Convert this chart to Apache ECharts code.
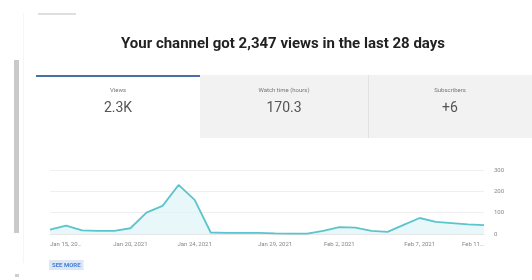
<!DOCTYPE html>
<html>
<head>
<meta charset="utf-8">
<script src="https://cdn.jsdelivr.net/npm/echarts@6/dist/echarts.min.js"></script>
<style>
html,body{margin:0;padding:0;background:#fff;}
#c{width:532px;height:280px;}
</style>
</head>
<body>
<div id="c"></div>
<script>
const titleText = "Your channel got 2,347 views in the last 28 days";
const tabLabels = ["Views", "Watch time (hours)", "Subscribers"];
const tabValues = ["2.3K", "170.3", "+6"];
const categories = ["Jan 15, 2021","Jan 16, 2021","Jan 17, 2021","Jan 18, 2021","Jan 19, 2021","Jan 20, 2021","Jan 21, 2021","Jan 22, 2021","Jan 23, 2021","Jan 24, 2021","Jan 25, 2021","Jan 26, 2021","Jan 27, 2021","Jan 28, 2021","Jan 29, 2021","Jan 30, 2021","Jan 31, 2021","Feb 1, 2021","Feb 2, 2021","Feb 3, 2021","Feb 4, 2021","Feb 5, 2021","Feb 6, 2021","Feb 7, 2021","Feb 8, 2021","Feb 9, 2021","Feb 10, 2021","Feb 11, 2021"];
const views = [20,39,17,15,15,27,100,132,230,160,7,5,5,5,3,2,2,15,32,30,15,10,43,75,57,51,45,42];
const xTickIndex = [0,5,9,14,18,23,27];
const xTickLabels = ["Jan 15, 20…","Jan 20, 2021","Jan 24, 2021","Jan 29, 2021","Feb 2, 2021","Feb 7, 2021","Feb 11…"];
const yTicks = [0,100,200,300];

const chart = echarts.init(document.getElementById('c'), null, {renderer:'canvas'});
const font = 'Roboto, "Noto Sans", sans-serif';
const tabX = [36, 200, 368, 532];
const graphics = [
  {type:'rect', shape:{x:38,y:13,width:38,height:2}, style:{fill:'#dedede'}, silent:true},
  {type:'rect', shape:{x:23,y:13,width:1,height:250}, style:{fill:'#f5f5f5'}, silent:true},
  {type:'rect', shape:{x:14,y:60,width:5,height:173}, style:{fill:'#c9c9c9'}, silent:true},
  {type:'rect', shape:{x:15,y:274,width:4,height:3}, style:{fill:'#cfcfcf'}, silent:true},
  {type:'rect', shape:{x:200,y:75,width:332,height:63}, style:{fill:'#f2f2f2'}, silent:true},
  {type:'rect', shape:{x:368,y:75,width:1,height:63}, style:{fill:'#e2e2e2'}, silent:true},
  {type:'rect', shape:{x:36,y:75,width:164,height:2}, style:{fill:'#4a6ea8'}, silent:true},
  {type:'text', x:283, y:44, style:{text:titleText, fill:'#222', font:'bold 15px '+font, align:'center', verticalAlign:'middle'}, silent:true},
  {type:'text', left:49, top:260, style:{text:'SEE MORE', fill:'#4a7fd4', font:'bold 6px '+font, backgroundColor:'#dbe6f7', padding:[2,3]}, silent:true}
];
for (let i=0;i<3;i++){
  const cx = (tabX[i]+tabX[i+1])/2;
  graphics.push({type:'text', x:cx, y:90, style:{text:tabLabels[i], fill:'#777', font:'6px '+font, align:'center', verticalAlign:'middle'}, silent:true});
  graphics.push({type:'text', x:cx, y:108, style:{text:tabValues[i], fill:'#555', font:'14px '+font, align:'center', verticalAlign:'middle'}, silent:true});
}

chart.setOption({
  animation:false,
  grid:{left:50, right:48, top:170, bottom:46, containLabel:false},
  xAxis:{
    type:'category', data:categories, boundaryGap:false,
    axisTick:{show:false},
    axisLine:{show:true, lineStyle:{color:'#e6e6e6'}},
    axisLabel:{
      interval:(idx)=>xTickIndex.includes(idx),
      formatter:(v, idx)=>{const k=xTickIndex.indexOf(idx); return k>=0?xTickLabels[k]:'';},
      fontSize:6, color:'#888', margin:7, fontFamily:font,
      alignMinLabel:'left', alignMaxLabel:'right'
    },
    splitLine:{show:false}
  },
  yAxis:{
    type:'value', position:'right', min:yTicks[0], max:yTicks[yTicks.length-1], interval:100,
    axisLabel:{fontSize:6, color:'#888', margin:10, fontFamily:font},
    axisLine:{show:false}, axisTick:{show:false},
    splitLine:{lineStyle:{color:'#efefef'}}
  },
  series:[{
    type:'line', data:views, symbol:'none', smooth:false,
    lineStyle:{color:'#5cc4cc', width:1.8},
    areaStyle:{color:'#def3f8'}
  }],
  graphic:graphics
});
</script>
</body>
</html>
